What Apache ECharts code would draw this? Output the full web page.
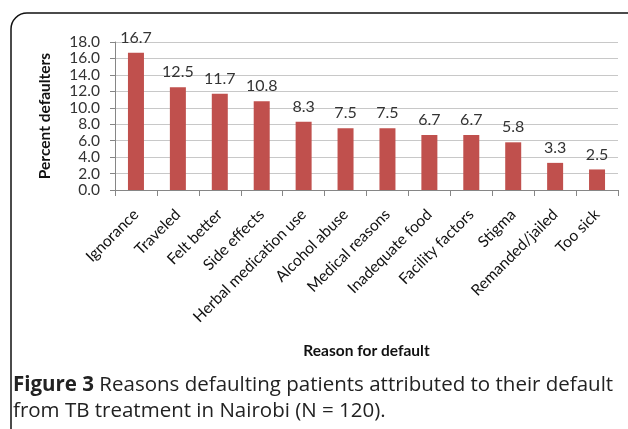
<!DOCTYPE html>
<html>
<head>
<meta charset="utf-8">
<script src="https://cdn.jsdelivr.net/npm/echarts@6/dist/echarts.min.js"></script>
<style>html,body{margin:0;padding:0;background:#fff}#c{width:628px;height:429px}</style>
</head>
<body>
<div id="c"></div>
<script>
const categories = ['Ignorance','Traveled','Felt better','Side effects','Herbal medication use','Alcohol abuse','Medical reasons','Inadequate food','Facility factors','Stigma','Remanded/jailed','Too sick'];
const values = [16.7, 12.5, 11.7, 10.8, 8.3, 7.5, 7.5, 6.7, 6.7, 5.8, 3.3, 2.5];
const yTicks = [0, 2, 4, 6, 8, 10, 12, 14, 16, 18];
const captionBold = 'Figure 3';
const captionLine1 = ' Reasons defaulting patients attributed to their default';
const captionLine2 = 'from TB treatment in Nairobi (N = 120).';

const chart = echarts.init(document.getElementById('c'), null, {renderer: 'canvas'});
const FONT = 'Lato';
const CAP = 'Open Sans';
chart.setOption({
  animation: false,
  backgroundColor: '#fff',
  grid: {left: 115, right: 10, top: 42, bottom: 239, containLabel: false},
  xAxis: {
    type: 'category',
    data: categories,
    name: 'Reason for default',
    nameLocation: 'middle',
    nameGap: 153,
    nameTextStyle: {fontFamily: FONT, fontWeight: 'bold', fontSize: 15.5, color: '#111'},
    axisLine: {lineStyle: {color: '#868686', width: 1}},
    axisTick: {show: true, length: 6, lineStyle: {color: '#868686'}},
    axisLabel: {rotate: 45, fontFamily: FONT, fontSize: 15.5, color: '#111', margin: 22, interval: 0}
  },
  yAxis: {
    type: 'value',
    min: yTicks[0],
    max: yTicks[yTicks.length - 1],
    interval: 2,
    name: 'Percent defaulters',
    nameLocation: 'middle',
    nameGap: 62,
    nameTextStyle: {fontFamily: FONT, fontWeight: 'bold', fontSize: 15.5, color: '#111'},
    axisLine: {show: true, lineStyle: {color: '#868686'}},
    axisTick: {show: true, length: 5, lineStyle: {color: '#868686'}},
    splitLine: {lineStyle: {color: '#c8c8c8'}},
    axisLabel: {fontFamily: FONT, fontSize: 15.5, color: '#333', margin: 15, formatter: v => v.toFixed(1)}
  },
  series: [{
    type: 'bar',
    data: values,
    barWidth: 16,
    itemStyle: {color: '#c0504d'},
    label: {show: true, position: 'top', distance: 7, fontFamily: FONT, fontSize: 16, color: '#333', formatter: p => p.value.toFixed(1)}
  }],
  graphic: [
    {type: 'rect', shape: {x: 11, y: 13, width: 640, height: 440, r: 16}, style: {fill: 'none', stroke: '#111', lineWidth: 1.5}, silent: true},
    {type: 'text', left: 13, top: 375, style: {
      text: '{b|' + captionBold + '}{n|' + captionLine1 + '}',
      rich: {
        b: {fontFamily: CAP, fontWeight: 'bold', fontSize: 20.5, fill: '#222'},
        n: {fontFamily: CAP, fontSize: 20.5, fill: '#222'}
      }
    }},
    {type: 'text', left: 13, top: 401, style: {text: captionLine2, fontFamily: CAP, fontSize: 20.5, fill: '#222'}}
  ]
});
</script>
</body>
</html>
